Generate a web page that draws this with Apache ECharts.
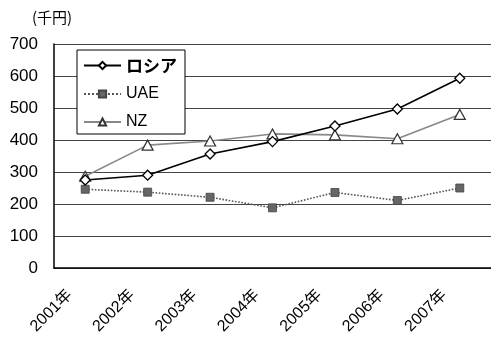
<!DOCTYPE html>
<html>
<head>
<meta charset="utf-8">
<script src="https://cdn.jsdelivr.net/npm/echarts@6/dist/echarts.min.js"></script>
<style>
  html, body { margin: 0; padding: 0; background: #fff; }
  #chart { width: 491px; height: 343px; }
</style>
</head>
<body>
<div id="chart"></div>
<script>
// Years on the category axis
const years = ['2001年', '2002年', '2003年', '2004年', '2005年', '2006年', '2007年'];

// Values in thousand yen
const russia = [275, 290, 356, 395, 444, 497, 593];
const uae = [246, 237, 221, 188, 236, 211, 250];
const nz = [287, 384, 397, 419, 416, 404, 480];

const seriesNames = ['ロシア', 'UAE', 'NZ'];
const unitLabel = '(千円)';

const latin = '"Liberation Sans", Arial, "Noto Sans CJK JP", sans-serif';
const cjk = '"Noto Sans CJK JP", "Liberation Sans", sans-serif';

const chart = echarts.init(document.getElementById('chart'), null, { renderer: 'canvas' });

chart.setOption({
  animation: false,
  backgroundColor: '#fff',
  graphic: [{
    type: 'text',
    left: 32,
    top: 10,
    style: { text: unitLabel, font: '15px ' + cjk, fill: '#000' }
  }],
  grid: { left: 54, top: 44, width: 445, bottom: 75, containLabel: false },
  legend: {
    orient: 'vertical',
    left: 77,
    top: 50,
    width: 104,
    padding: [7, 8, 4, 6],
    itemWidth: 37,
    itemHeight: 9,
    itemGap: 12,
    backgroundColor: '#fff',
    borderColor: '#000',
    borderWidth: 1,
    data: seriesNames,
    formatter: function (name) {
      return name === seriesNames[0] ? '{jp|' + name + '}' : '{en|' + name + '}';
    },
    textStyle: {
      color: '#000',
      rich: {
        jp: { fontFamily: cjk, fontSize: 17, fontWeight: 'bold', color: '#000' },
        en: { fontFamily: latin, fontSize: 16, color: '#000' }
      }
    }
  },
  xAxis: {
    type: 'category',
    data: years,
    boundaryGap: true,
    axisLine: { lineStyle: { color: '#000', width: 1.5 } },
    axisTick: { inside: true, length: 7, interval: 0, lineStyle: { color: '#000', width: 1 } },
    axisLabel: {
      interval: 0,
      rotate: 45,
      margin: 9,
      padding: [0, 22, 0, 0],
      color: '#000',
      fontFamily: latin,
      fontSize: 16
    }
  },
  yAxis: {
    type: 'value',
    min: 0,
    max: 700,
    interval: 100,
    axisLine: { show: true, lineStyle: { color: '#000', width: 1.5 } },
    axisTick: { show: false },
    axisLabel: { color: '#000', fontFamily: latin, fontSize: 17, margin: 16 },
    splitLine: { show: true, lineStyle: { color: '#444', width: 1.2 } }
  },
  series: [
    {
      name: seriesNames[0],
      type: 'line',
      data: russia,
      symbol: 'diamond',
      symbolSize: 10,
      showAllSymbol: true,
      lineStyle: { color: '#000', width: 1.6 },
      itemStyle: { color: '#fff', borderColor: '#000', borderWidth: 1.3 },
      z: 4
    },
    {
      name: seriesNames[1],
      type: 'line',
      data: uae,
      symbol: 'rect',
      symbolSize: 8,
      showAllSymbol: true,
      lineStyle: { color: '#555', width: 1.6, type: 'dotted' },
      itemStyle: { color: '#666', borderColor: '#444', borderWidth: 0.8 },
      z: 2
    },
    {
      name: seriesNames[2],
      type: 'line',
      data: nz,
      symbol: 'triangle',
      symbolSize: [11, 10],
      showAllSymbol: true,
      lineStyle: { color: '#888', width: 1.6 },
      itemStyle: { color: '#fff', borderColor: '#333', borderWidth: 1.2 },
      z: 3
    }
  ]
});
</script>
</body>
</html>
